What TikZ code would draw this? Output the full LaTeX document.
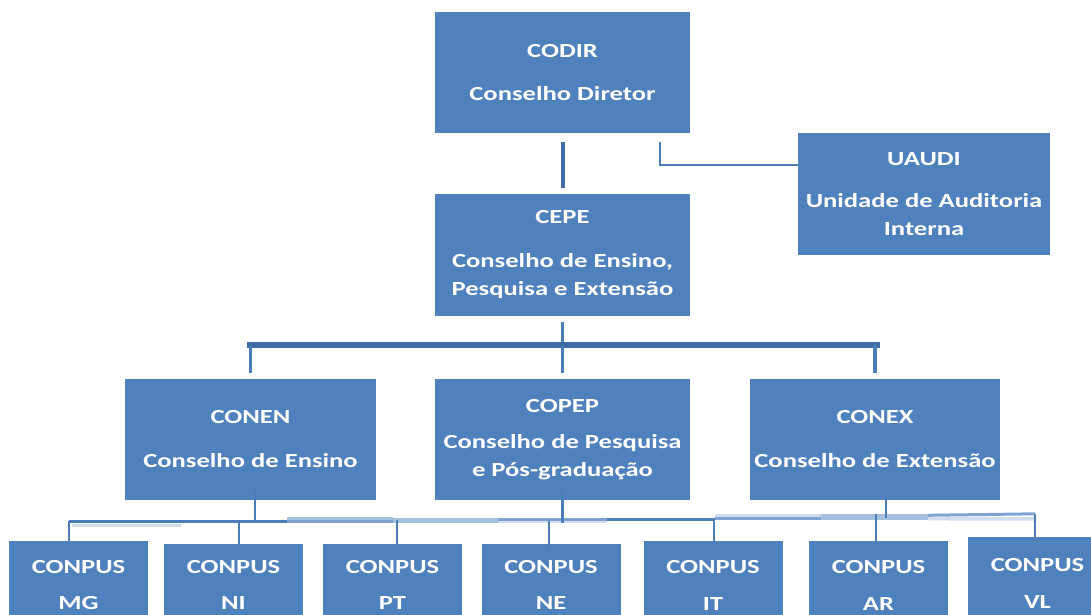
\documentclass[tikz,border=0pt]{standalone}
\usepackage{fontspec}
\setmainfont{Carlito}[FakeStretch=1.33]
\usetikzlibrary{calc}
\definecolor{boxblue}{HTML}{4F81BD}
\definecolor{linedark}{HTML}{4A7EBB}
\definecolor{linedeep}{HTML}{3F6CA3}
\definecolor{linemid}{HTML}{7FA3D1}
\definecolor{linesoft}{HTML}{A5BFDF}
\definecolor{linepale}{HTML}{D0DDEE}
\begin{document}
\begin{tikzpicture}[x=1pt,y=-1pt,
  box/.style={fill=boxblue, draw=none, text=white, align=center, inner sep=0pt,
    font=\fontsize{20pt}{28pt}\selectfont\bfseries},
  bigbox/.style={box, minimum width=255pt, minimum height=121pt},
  campus/.style={box, minimum width=139pt},
  conn/.style={draw=linedark, line width=2.5pt},
  trunk/.style={draw=linedeep, line width=4pt},
  bus/.style={draw=linedeep, line width=6pt},
  drop/.style={draw=linedark, line width=3.5pt},
  band/.style={line width=#1}
]
\useasboundingbox (0,0) rectangle (1091,614);
\clip (0,0) rectangle (1091,614);

% top level
\node[bigbox] (codir) at (562.5,72.5) {CODIR\\[15pt]Conselho Diretor};
\node[box, minimum width=252pt, minimum height=122pt] (uaudi) at (924,194) {UAUDI\\[14pt]Unidade de Auditoria\\Interna};
\node[bigbox, minimum height=122pt] (cepe) at (562.5,255) {CEPE\\[16pt]Conselho de Ensino,\\Pesquisa e Extensão};

% councils
\node[bigbox, minimum width=251pt] (conen) at (250.5,439.5) {CONEN\\[16pt]Conselho de Ensino};
\node[bigbox] (copep) at (562.5,439.5) {COPEP\\[8pt]Conselho de Pesquisa\\e Pós-graduação};
\node[bigbox, minimum width=250pt] (conex) at (875,439.5) {CONEX\\[16pt]Conselho de Extensão};

% campus councils
\node[campus, minimum height=88pt] (mg) at (78.5,585) {CONPUS\\[8pt]MG};
\node[campus, minimum height=82pt] (ni) at (233.5,585) {CONPUS\\[8pt]NI};
\node[campus, minimum height=82pt] (pt) at (392.5,585) {CONPUS\\[8pt]PT};
\node[campus, minimum height=82pt] (ne) at (551,585) {CONPUS\\[8pt]NE};
\node[campus, minimum height=88pt] (it) at (713,585) {CONPUS\\[9pt]IT};
\node[campus, minimum height=88pt] (ar) at (878.5,585) {CONPUS\\[9pt]AR};
\node[campus, minimum height=92pt] (vl) at (1037.5,583) {CONPUS\\[9pt]VL};

% CODIR -> CEPE, CODIR -> UAUDI
\draw[trunk] ($(codir.south)+(0,9)$) -- ($(cepe.north)+(0,-6)$);
\draw[conn] ($(codir.south east)+(-30,9)$) |- ($(uaudi.north west)+(0,32)$);

% CEPE -> councils
\coordinate (busc) at ($(cepe.south)+(0,29)$);
\draw[drop] ($(cepe.south)+(0,6)$) -- (busc);
\draw[bus] ($(conen.north |- busc)+(-3.5,0)$) -- ($(conex.north |- busc)+(5,0)$);
\draw[drop] (conen.north |- busc) -- ($(conen.north)+(0,-6)$);
\draw[drop] (copep.north |- busc) -- ($(copep.north)+(0,-6)$);
\draw[drop] (conex.north |- busc) -- ($(conex.north)+(0,-6)$);

% junction points above campus boxes
\coordinate (jmg) at ($(mg.north)+(-9.5,-19.5)$);
\coordinate (jni) at ($(ni.north)+(5.5,-23)$);
\coordinate (jpt) at ($(pt.north)+(4.5,-24)$);
\coordinate (jne) at ($(ne.north)+(-2,-23)$);
\coordinate (jit) at ($(it.north)+(1,-23)$);
\coordinate (jar) at ($(ar.north)+(-2.5,-27)$);
\coordinate (jvl) at ($(vl.north)+(-2.5,-23)$);

% horizontal connector bands (overlapping shades)
\draw[band=3pt, draw=linepale] ($(jmg)+(3,4.5)$) -- ++(109,0);
\draw[conn] (jmg) -- ++(218,0) coordinate (h1);
\draw[band=2.7pt, draw=linesoft] ($(h1)+(0,-2.5)$) -- ++(106,0);
\draw[band=2.7pt, draw=linemid] ($(h1)+(0,0.3)$) -- ++(106,0) coordinate (h2);
\draw[band=5pt, draw=linesoft] ($(h2)+(0,-1)$) -- ++(105,0) coordinate (h3);
\draw[band=2.7pt, draw=linemid] ($(h3)+(0,-1.2)$) -- ++(109,0);
\draw[band=2.5pt, draw=linepale] ($(h3)+(0,1.3)$) -- ++(109,0);
\draw[conn] ($(jit)+(-107,1.5)$) -- ($(jit)+(1,1.5)$);
\draw[band=3.5pt, draw=linepale] ($(jit)+(1,-2.5)$) -- ++(106,0) coordinate (h4);
\draw[band=3pt, draw=linemid] ($(jit)+(1,1)$) -- ++(106,0);
\draw[band=6.7pt, draw=linesoft] ($(h4)+(0,1.8)$) -- ++(107,0) coordinate (h5);
\draw[band=3pt, draw=linemid] ($(h5)+(0,-1.8)$) -- (jvl);
\draw[band=3.7pt, draw=linepale] ($(h5)+(0,1.5)$) -- ($(jvl)+(0,5)$);

% council drops to the campus line
\draw[conn] ($(conen.south)+(4.5,-15)$) -- ($(conen.south)+(4.5,22)$);
\draw[conn] ($(copep.south)+(0,-10)$) -- ($(copep.south)+(0,23)$);
\draw[conn] ($(conex.south)+(11,-6)$) -- ($(conex.south)+(11,18)$);

% drops into campus boxes
\draw[conn] (jmg) -- ($(mg.north)+(-9.5,3)$);
\draw[conn] (jni) -- ($(ni.north)+(5.5,0)$);
\draw[conn] (jpt) -- ($(pt.north)+(4.5,0)$);
\draw[conn] (jne) -- ($(ne.north)+(-2,6)$);
\draw[conn] (jit) -- ($(it.north)+(1,2)$);
\draw[conn] (jar) -- ($(ar.north)+(-2.5,0)$);
\draw[conn] (jvl) -- ($(vl.north)+(-2.5,0)$);
\end{tikzpicture}
\end{document}
